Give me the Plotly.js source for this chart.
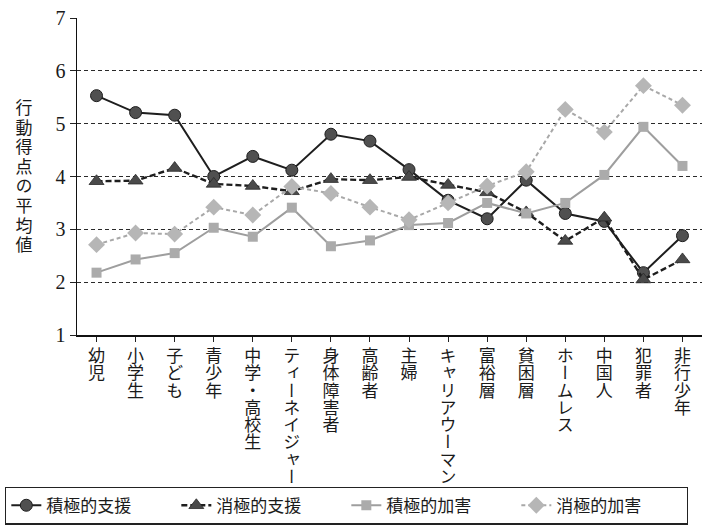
<!DOCTYPE html>
<html>
<head>
<meta charset="utf-8">
<script src="https://cdn.plot.ly/plotly-3.0.1.min.js"></script>
<style>
  html, body { margin: 0; padding: 0; background: #ffffff; }
  #chart { width: 705px; height: 528px; }
</style>
</head>
<body>
<div id="chart"></div>
<script>
// ---- data ----
const categories = ['幼児','小学生','子ども','青少年','中学・高校生','ティーネイジャー','身体障害者','高齢者','主婦','キャリアウーマン','富裕層','貧困層','ホームレス','中国人','犯罪者','非行少年'];
const seriesNames = ['積極的支援','消極的支援','積極的加害','消極的加害'];
const activeSupport   = [5.53, 5.21, 5.16, 4.00, 4.38, 4.12, 4.80, 4.67, 4.13, 3.55, 3.20, 3.93, 3.30, 3.15, 2.18, 2.88];
const passiveSupport  = [3.91, 3.92, 4.16, 3.86, 3.82, 3.72, 3.95, 3.93, 3.99, 3.84, 3.70, 3.32, 2.78, 3.22, 2.05, 2.43];
const activeHarm      = [2.18, 2.43, 2.55, 3.03, 2.86, 3.41, 2.68, 2.79, 3.08, 3.12, 3.50, 3.30, 3.50, 4.03, 4.94, 4.20];
const passiveHarm     = [2.71, 2.93, 2.91, 3.42, 3.27, 3.81, 3.68, 3.42, 3.18, 3.50, 3.82, 4.09, 5.27, 4.84, 5.72, 5.35];
const yTickVals = [1, 2, 3, 4, 5, 6, 7];
const yTitle = '行動得点の平均値';

const xIdx = categories.map((c, i) => i);

const traces = [
  { name: seriesNames[0], x: xIdx, y: activeSupport, type: 'scatter', mode: 'lines+markers',
    line: { color: '#1e1e1e', width: 2 },
    marker: { symbol: 'circle', size: 12, color: '#505050', line: { color: '#1e1e1e', width: 1 } } },
  { name: seriesNames[1], x: xIdx, y: passiveSupport, type: 'scatter', mode: 'lines+markers',
    line: { color: '#1e1e1e', width: 2.4, dash: '6px,3px' },
    marker: { symbol: 'triangle-up', size: 13, color: '#4a4a4a', line: { color: '#2a2a2a', width: 0.8 } } },
  { name: seriesNames[2], x: xIdx, y: activeHarm, type: 'scatter', mode: 'lines+markers',
    line: { color: '#9e9e9e', width: 2 },
    marker: { symbol: 'square', size: 10, color: '#ababab' } },
  { name: seriesNames[3], x: xIdx, y: passiveHarm, type: 'scatter', mode: 'lines+markers',
    line: { color: '#a8a8a8', width: 2, dash: '4px,3px' },
    marker: { symbol: 'diamond', size: 13, color: '#b6b6b6' } }
];

const layout = {
  width: 705, height: 528,
  margin: { l: 77, r: 3, t: 18, b: 193, autoexpand: false },
  paper_bgcolor: '#ffffff', plot_bgcolor: '#ffffff',
  showlegend: true,
  font: { family: '"Noto Sans CJK JP", sans-serif', color: '#1a1a1a' },
  xaxis: {
    range: [-0.5, 15.5],
    tickmode: 'array', tickvals: xIdx, ticktext: categories,
    tickson: 'boundaries', ticks: 'outside', ticklen: 5, tickwidth: 1, tickcolor: '#222',
    showline: true, linecolor: '#111', linewidth: 2,
    showgrid: false, zeroline: false, tickangle: 0,
    ticklabeloverflow: 'allow',
    tickfont: { family: '"Noto Sans CJK JP", sans-serif', size: 17, color: '#1a1a1a' }
  },
  yaxis: {
    range: [1, 7],
    tickmode: 'array', tickvals: yTickVals,
    ticks: 'outside', ticklen: 6, tickwidth: 1, tickcolor: '#222',
    showline: true, linecolor: '#111', linewidth: 1.5,
    showgrid: true, gridcolor: '#2a2a2a', gridwidth: 1.2, griddash: '4px,3px',
    zeroline: false,
    tickfont: { family: '"Liberation Serif", serif', size: 20, color: '#1a1a1a' }
  },
  legend: {
    orientation: 'h', x: -0.115, xanchor: 'left', y: -0.478, yanchor: 'top',
    bgcolor: '#ffffff', bordercolor: '#222', borderwidth: 1.2,
    font: { family: '"Noto Sans CJK JP", sans-serif', size: 17, color: '#1a1a1a' },
    entrywidth: 125, entrywidthmode: 'pixels', tracegroupgap: 0
  },
  annotations: [{
    xref: 'paper', yref: 'paper', x: -0.09, y: 0.5, showarrow: false,
    text: yTitle, font: { family: '"Noto Sans CJK JP", sans-serif', size: 17, color: '#1a1a1a' }
  }]
};

function toVertical(t, cx, top, spacing) {
  t.style.writingMode = 'vertical-rl';
  t.style.letterSpacing = spacing + 'px';
  t.setAttribute('text-anchor', 'start');
  const b = t.getBoundingClientRect();
  const y = parseFloat(t.getAttribute('y')) || 0;
  const x = parseFloat(t.getAttribute('x')) || 0;
  t.setAttribute('y', y + (top - b.top));
  t.setAttribute('x', x + (cx - (b.left + b.width / 2)));
}

Plotly.newPlot('chart', traces, layout, { staticPlot: true, displayModeBar: false }).then(gd => {
  const root = gd.getBoundingClientRect();
  gd.querySelectorAll('.xtick text').forEach(t => {
    const b0 = t.getBoundingClientRect();
    const cx = b0.left + b0.width / 2;
    toVertical(t, cx, root.top + 347, 0.3);
  });
  const ann = gd.querySelector('.annotation-text-g text');
  if (ann) toVertical(ann, root.left + 24, root.top + 99, 2.6);
});
</script>
</body>
</html>
